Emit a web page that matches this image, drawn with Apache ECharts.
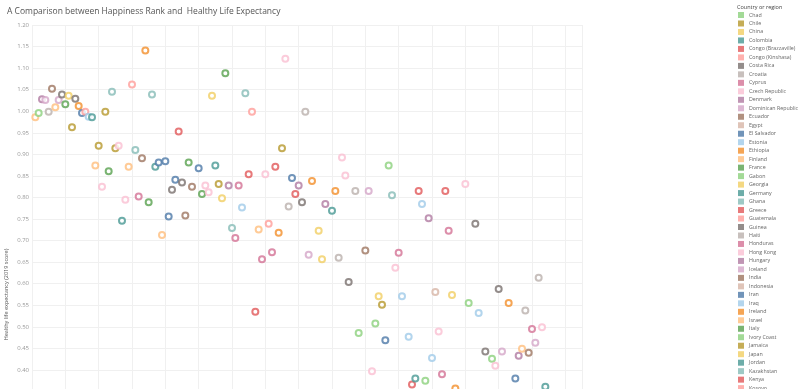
<!DOCTYPE html>
<html>
<head>
<meta charset="utf-8">
<script src="https://cdn.jsdelivr.net/npm/echarts@6/dist/echarts.min.js"></script>
<style>
html,body{margin:0;padding:0;background:#fff;}
#chart{width:806px;height:389px;}
</style>
</head>
<body>
<div id="chart"></div>
<script>
// Tableau 20 palette
const palette = {
  blue:'#4e79a7', lblue:'#a0cbe8', orange:'#f28e2b', lorange:'#ffbe7d',
  green:'#59a14f', lgreen:'#8cd17d', olive:'#b6992d', yellow:'#f1ce63',
  teal:'#499894', lteal:'#86bcb6', red:'#e15759', pink:'#ff9d9a',
  gray:'#79706e', lgray:'#bab0ac', mag:'#d37295', lpink:'#fabfd2',
  purple:'#b07aa1', lpurple:'#d4a6c8', brown:'#9d7660', lbrown:'#d7b5a6'
};

// Happiness rank (x)
const ranks = [
  1,2,3,4,5,6,7,8,9,10,
  11,12,13,14,15,16,17,18,19,20,
  21,22,23,24,25,26,27,28,29,30,
  31,32,33,34,35,36,37,38,39,40,
  41,42,43,44,45,46,47,48,50,
  51,52,53,54,55,56,57,58,59,60,
  61,62,63,64,65,66,67,68,69,70,
  71,72,73,74,75,76,77,78,79,80,
  81,82,83,84,86,87,88,90,
  91,92,93,94,95,97,98,100,
  101,102,103,104,105,106,107,108,109,110,
  111,113,114,115,116,117,118,119,120,
  121,122,123,124,125,126,127,130,
  131,133,134,136,138,139,140,
  141,143,145,146,147,148,149,150,
  151,152,153,154
];

// Healthy life expectancy (2019 score) (y)
const lifeExpectancy = [
  0.986,0.996,1.028,1.026,0.999,1.052,1.009,1.026,1.039,1.016,
  1.036,0.963,1.029,1.012,0.996,0.999,0.987,0.986,0.874,0.920,
  0.825,0.999,0.861,1.045,0.914,0.920,0.746,0.795,0.871,1.062,
  0.910,0.802,0.891,1.141,0.789,1.039,0.871,0.881,0.713,0.884,
  0.756,0.818,0.841,0.953,0.835,0.758,0.881,0.825,0.868,
  0.808,0.828,0.812,1.036,0.874,0.831,0.798,1.088,0.828,0.729,
  0.706,0.828,0.777,1.042,0.854,0.999,0.535,0.726,0.657,0.854,
  0.739,0.673,0.871,0.718,0.914,1.122,0.779,0.845,0.808,0.828,
  0.789,0.999,0.667,0.838,0.723,0.657,0.785,0.769,
  0.815,0.660,0.893,0.851,0.604,0.815,0.486,0.677,
  0.815,0.397,0.508,0.571,0.551,0.469,0.874,0.805,0.637,0.672,
  0.571,0.477,0.366,0.380,0.815,0.785,0.375,0.752,0.428,
  0.581,0.489,0.390,0.815,0.723,0.574,0.357,0.831,
  0.555,0.739,0.532,0.443,0.426,0.410,0.588,
  0.443,0.555,0.380,0.433,0.449,0.538,0.440,0.495,
  0.463,0.614,0.499,0.361
];

// Colour of each point (country colour as seen)
const pointColors = [
  'lorange','lgreen','purple','lpurple','lgray','brown','lorange','lpurple','gray','green',
  'yellow','olive','gray','orange','blue','pink','lblue','teal','lorange','olive',
  'lpink','olive','green','lteal','olive','lpink','teal','lpink','lorange','pink',
  'lteal','mag','brown','orange','green','lteal','teal','blue','lorange','blue',
  'blue','gray','blue','red','gray','brown','green','brown','blue',
  'green','lpink','lpink','yellow','teal','olive','yellow','green','purple','lteal',
  'mag','mag','lblue','lteal','red','pink','red','lorange','mag','lpink',
  'pink','mag','red','orange','olive','lpink','lgray','blue','red','purple',
  'gray','lgray','lpurple','orange','yellow','yellow','purple','teal',
  'orange','lgray','lpink','lpink','gray','lgray','lgreen','brown',
  'lpurple','lpink','lgreen','yellow','olive','blue','lgreen','lteal','lpink','mag',
  'lblue','lblue','red','teal','red','lblue','lgreen','purple','lblue',
  'lbrown','lpink','mag','red','mag','yellow','orange','lpink',
  'lgreen','gray','lblue','gray','lgreen','lpink','gray',
  'lpurple','orange','blue','purple','lorange','lgray','brown','mag',
  'lpurple','lgray','lpink','teal'
];

// Legend (visible part)
const legendCountries = [
  'Chad','Chile','China','Colombia','Congo (Brazzaville)','Congo (Kinshasa)','Costa Rica','Croatia',
  'Cyprus','Czech Republic','Denmark','Dominican Republic','Ecuador','Egypt','El Salvador','Estonia',
  'Ethiopia','Finland','France','Gabon','Georgia','Germany','Ghana','Greece','Guatemala','Guinea',
  'Haiti','Honduras','Hong Kong','Hungary','Iceland','India','Indonesia','Iran','Iraq','Ireland',
  'Israel','Italy','Ivory Coast','Jamaica','Japan','Jordan','Kazakhstan','Kenya','Kosovo'
];
const legendColorKeys = [
  'lgreen','olive','yellow','teal','red','pink','gray','lgray',
  'mag','lpink','purple','lpurple','brown','lbrown','blue','lblue',
  'orange','lorange','green','lgreen','yellow','teal','lteal','red','pink','gray',
  'lgray','mag','lpink','purple','lpurple','brown','lbrown','blue','lblue','orange',
  'lorange','green','lgreen','olive','yellow','teal','lteal','red','pink'
];

const points = ranks.map((r, i) => ({
  value: [r, lifeExpectancy[i]],
  itemStyle: { color: palette[pointColors[i]], borderColor: palette[pointColors[i]] }
}));

const legendSeries = legendCountries.map((name, i) => ({
  name: name, type: 'scatter', data: [],
  itemStyle: { color: palette[legendColorKeys[i]] }
}));

const chart = echarts.init(document.getElementById('chart'), null, { renderer: 'canvas' });
chart.setOption({
  animation: false,
  backgroundColor: '#ffffff',
  title: [
    { text: 'A Comparison between Happiness Rank and  Healthy Life Expectancy',
      left: 7, top: 7, padding: 0,
      textStyle: { fontSize: 8.5, fontWeight: 'normal', color: '#555', fontFamily: 'Open Sans' } },
    { text: 'Country or region', left: 737, top: 4, padding: 0,
      textStyle: { fontSize: 5.5, fontWeight: 'normal', color: '#444', fontFamily: 'Open Sans' } }
  ],
  legend: {
    data: legendCountries,
    orient: 'vertical',
    left: 738, top: 12, height: 600,
    icon: 'rect',
    itemWidth: 6, itemHeight: 6, itemGap: 2.48,
    padding: 0,
    textStyle: { fontSize: 5.3, color: '#666', lineHeight: 6, fontFamily: 'Open Sans' },
    selectedMode: false
  },
  grid: { left: 32, right: 224, top: 25, bottom: -175, containLabel: false, outerBoundsMode: 'none' },
  xAxis: {
    type: 'value', min: 0, max: 165, interval: 10,
    axisLine: { show: false }, axisTick: { show: false }, axisLabel: { show: false },
    splitLine: { lineStyle: { color: '#f0f0f0', width: 1 } }
  },
  yAxis: {
    type: 'value', min: -0.05, max: 1.2, interval: 0.05,
    name: 'Healthy life expectancy (2019 score)',
    nameLocation: 'middle', nameGap: 23, nameMoveOverlap: false,
    nameTextStyle: { fontSize: 5.5, color: '#555', fontFamily: 'Open Sans' },
    axisLine: { show: false }, axisTick: { show: false },
    axisLabel: { fontSize: 6, color: '#999', margin: 3, fontFamily: 'Open Sans',
      formatter: v => v.toFixed(2) },
    splitLine: { lineStyle: { color: '#f0f0f0', width: 1 } }
  },
  series: [
    { name: 'points', type: 'scatter', symbol: 'emptyCircle', symbolSize: 6,
      itemStyle: { borderWidth: 1.5 },
      data: points }
  ].concat(legendSeries)
});
</script>
</body>
</html>
